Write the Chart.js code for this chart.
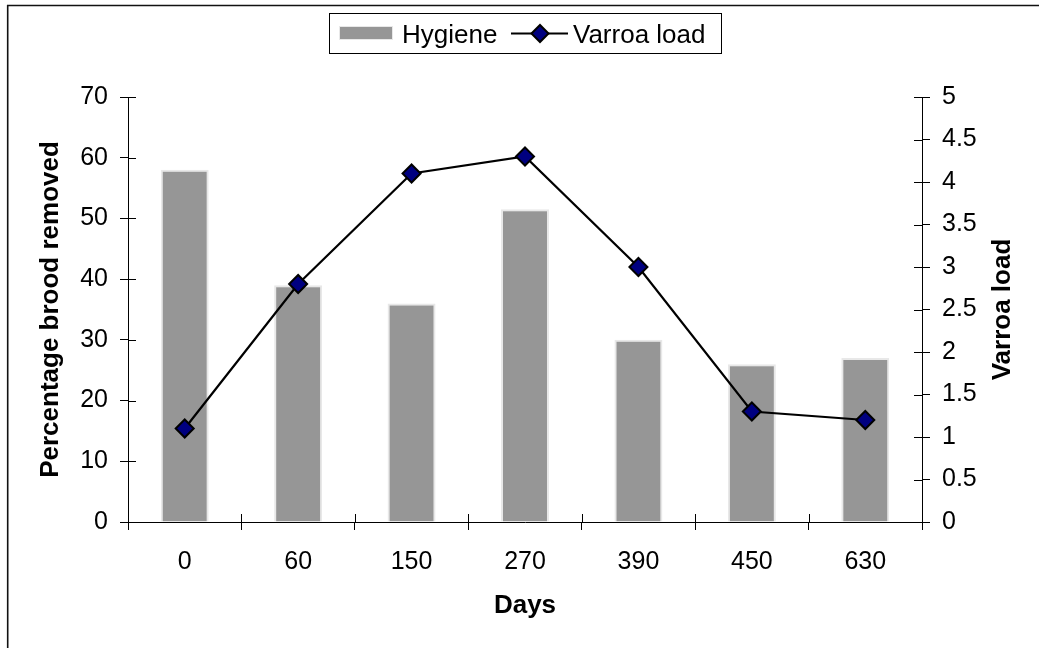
<!DOCTYPE html>
<html>
<head>
<meta charset="utf-8">
<title>Hygiene and Varroa load</title>
<script src="https://cdn.jsdelivr.net/npm/chart.js@4/dist/chart.umd.min.js"></script>
<style>
  html, body { margin: 0; padding: 0; background: #ffffff; }
  #wrap { width: 1039px; height: 648px; }
</style>
</head>
<body>
<div id="wrap"><canvas id="chart" width="1039" height="648"></canvas></div>
<script>
// Sampling days
const days = ['0', '60', '150', '270', '390', '450', '630'];
// Percentage of brood removed (hygienic behaviour)
const hygiene = [58, 39, 36, 51.5, 30, 26, 27];
// Varroa mite load
const varroaLoad = [1.1, 2.8, 4.1, 4.3, 3.0, 1.3, 1.2];
// Axis tick labels
const leftTickLabels = ['0', '10', '20', '30', '40', '50', '60', '70'];
const rightTickLabels = ['0', '0.5', '1', '1.5', '2', '2.5', '3', '3.5', '4', '4.5', '5'];

const FONT = '"Liberation Sans", Arial, Helvetica, sans-serif';
const BAR_FILL = '#969696';
const BAR_EDGE = '#e8e8e8';
const LINE_COLOR = '#000000';
const MARKER_FILL = '#000080';

// Frame, inward tick halves, legend and right-hand title
const decorations = {
  id: 'decorations',
  beforeDraw(chart) {
    const ctx = chart.ctx;
    ctx.save();
    ctx.fillStyle = '#ffffff';
    ctx.fillRect(0, 0, chart.width, chart.height);
    ctx.restore();
  },
  afterDraw(chart) {
    const ctx = chart.ctx;
    const area = chart.chartArea;
    const sx = chart.scales.x, sy = chart.scales.y, sy1 = chart.scales.y1;
    const inLen = 8;

    ctx.save();
    // outer frame (top and left edges)
    ctx.strokeStyle = '#111111';
    ctx.lineWidth = 1.6;
    ctx.beginPath();
    ctx.moveTo(7.7, chart.height + 2);
    ctx.lineTo(7.7, 5.5);
    ctx.lineTo(chart.width + 2, 5.5);
    ctx.stroke();

    // tick marks crossing into the plot area
    ctx.strokeStyle = '#000000';
    ctx.lineWidth = 1;
    ctx.beginPath();
    sy.ticks.forEach(t => {
      const y = Math.round(sy.getPixelForValue(t.value)) + 0.5;
      ctx.moveTo(area.left, y);
      ctx.lineTo(area.left + inLen, y);
    });
    sy1.ticks.forEach(t => {
      const y = Math.round(sy1.getPixelForValue(t.value)) + 0.5;
      ctx.moveTo(area.right - inLen, y);
      ctx.lineTo(area.right, y);
    });
    const n = days.length;
    for (let i = 0; i <= n; i++) {
      const x = Math.round(sx.left + i * (sx.width / n)) + 0.5;
      ctx.moveTo(x, area.bottom - inLen);
      ctx.lineTo(x, area.bottom);
    }
    ctx.stroke();

    // right axis title, reading bottom to top
    ctx.fillStyle = '#000000';
    ctx.font = 'bold 26px ' + FONT;
    ctx.textAlign = 'center';
    ctx.textBaseline = 'middle';
    ctx.translate(1002, (area.top + area.bottom) / 2);
    ctx.rotate(-Math.PI / 2);
    ctx.fillText(chart.data.datasets[1].label, 0, 1);
    ctx.setTransform(1, 0, 0, 1, 0, 0);

    // legend box
    const barDs = chart.data.datasets[0];
    const lineDs = chart.data.datasets[1];
    ctx.strokeStyle = '#000000';
    ctx.lineWidth = 1;
    ctx.strokeRect(329.5, 13.5, 392, 40);

    // bar swatch
    ctx.fillStyle = BAR_EDGE;
    ctx.fillRect(339, 26, 54, 14);
    ctx.fillStyle = barDs.backgroundColor;
    ctx.fillRect(340, 27, 52, 12);

    ctx.fillStyle = '#000000';
    ctx.font = '26px ' + FONT;
    ctx.textAlign = 'left';
    ctx.textBaseline = 'alphabetic';
    ctx.fillText(barDs.label, 402, 43);

    // line swatch with marker
    ctx.strokeStyle = lineDs.borderColor;
    ctx.lineWidth = 2;
    ctx.beginPath();
    ctx.moveTo(511, 33.5);
    ctx.lineTo(568, 33.5);
    ctx.stroke();
    ctx.fillStyle = lineDs.pointBackgroundColor;
    ctx.strokeStyle = lineDs.pointBorderColor;
    ctx.lineWidth = lineDs.pointBorderWidth;
    Chart.helpers.drawPoint(ctx, { pointStyle: 'rectRot', radius: 8.5, borderWidth: lineDs.pointBorderWidth, rotation: 0 }, 540, 33.5);

    ctx.fillStyle = '#000000';
    ctx.fillText(lineDs.label, 573, 43);
    ctx.restore();
  }
};

const tickFont = { family: FONT, size: 25 };
const titleFont = { family: FONT, size: 26, weight: 'bold' };

new Chart(document.getElementById('chart'), {
  type: 'bar',
  data: {
    labels: days,
    datasets: [
      {
        label: 'Hygiene',
        data: hygiene,
        yAxisID: 'y',
        backgroundColor: BAR_FILL,
        borderColor: BAR_EDGE,
        borderWidth: 2,
        borderSkipped: 'bottom',
        categoryPercentage: 1.0,
        barPercentage: 0.423,
        order: 2
      },
      {
        type: 'line',
        label: 'Varroa load',
        data: varroaLoad,
        yAxisID: 'y1',
        borderColor: LINE_COLOR,
        borderWidth: 2.2,
        tension: 0,
        fill: false,
        pointStyle: 'rectRot',
        pointRadius: 9,
        pointBackgroundColor: MARKER_FILL,
        pointBorderColor: '#000000',
        pointBorderWidth: 2,
        order: 1
      }
    ]
  },
  options: {
    responsive: false,
    animation: false,
    devicePixelRatio: 1,
    layout: { padding: { left: 0, right: 0, top: 97, bottom: 0 } },
    plugins: {
      legend: { display: false },
      tooltip: { enabled: false },
      title: { display: false }
    },
    scales: {
      x: {
        offset: true,
        grid: { display: true, drawOnChartArea: false, tickLength: 8, color: '#000000', offset: true },
        border: { display: true, color: '#000000', width: 1 },
        ticks: { color: '#000000', font: tickFont, padding: 17, maxRotation: 0 },
        title: { display: true, text: 'Days', color: '#000000', font: titleFont, padding: { top: 0, bottom: 27 } },
        afterFit(scale) { scale.height = 126; }
      },
      y: {
        position: 'left',
        min: 0,
        max: 70,
        grid: { display: true, drawOnChartArea: false, tickLength: 8, color: '#000000' },
        border: { display: true, color: '#000000', width: 1 },
        ticks: {
          stepSize: 10,
          color: '#000000',
          font: tickFont,
          padding: 12,
          callback: (v, i) => leftTickLabels[i]
        },
        title: { display: true, text: 'Percentage brood removed', color: '#000000', font: titleFont, padding: { top: 35, bottom: 0 } },
        afterFit(scale) { scale.width = 128; }
      },
      y1: {
        position: 'right',
        min: 0,
        max: 5,
        grid: { display: true, drawOnChartArea: false, tickLength: 8, color: '#000000' },
        border: { display: true, color: '#000000', width: 1 },
        ticks: {
          stepSize: 0.5,
          color: '#000000',
          font: tickFont,
          padding: 12,
          callback: (v, i) => rightTickLabels[i]
        },
        afterFit(scale) { scale.width = 117; }
      }
    }
  },
  plugins: [decorations]
});
</script>
</body>
</html>
